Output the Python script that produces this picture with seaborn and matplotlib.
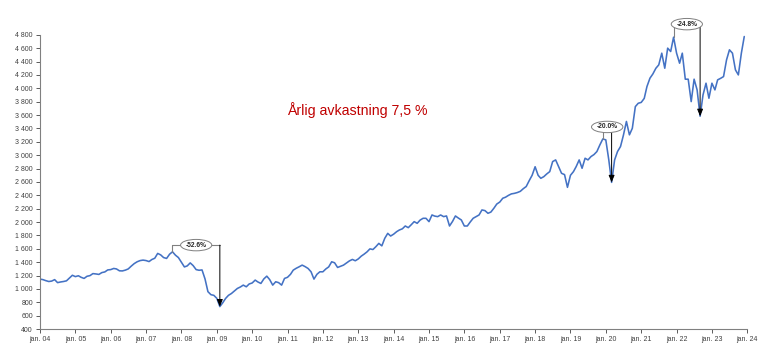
import numpy as np
import pandas as pd
import matplotlib
matplotlib.use("Agg")
import matplotlib.pyplot as plt
import matplotlib.dates as mdates
from matplotlib.ticker import FuncFormatter, MultipleLocator
import seaborn as sns

# Monthly index level, Jan 2004 - Dec 2023
start_month = "2004-01-01"
index_values = [
    # 2004
    1148, 1140, 1125, 1112, 1118, 1140, 1095, 1105, 1112, 1122, 1165, 1205,
    # 2005
    1185, 1198, 1175, 1158, 1190, 1200, 1230, 1225, 1218, 1245, 1255, 1285,
    # 2006
    1290, 1307, 1300, 1272, 1270, 1282, 1300, 1342, 1380, 1407, 1425, 1432,
    # 2007
    1425, 1410, 1440, 1460, 1532, 1510, 1470, 1457, 1520, 1556, 1505, 1470,
    # 2008
    1400, 1330, 1345, 1390, 1350, 1290, 1280, 1285, 1150, 960, 915, 905,
    # 2009
    860, 737, 790, 858, 905, 933, 970, 1008, 1030, 1058, 1033, 1075,
    # 2010
    1090, 1133, 1105, 1083, 1150, 1192, 1140, 1058, 1108, 1095, 1058, 1158,
    # 2011
    1175, 1220, 1282, 1310, 1332, 1357, 1335, 1307, 1257, 1148, 1220, 1257,
    # 2012
    1257, 1300, 1330, 1407, 1392, 1322, 1340, 1357, 1390, 1420, 1442, 1422,
    # 2013
    1450, 1492, 1520, 1555, 1600, 1590, 1632, 1682, 1645, 1757, 1832, 1792,
    # 2014
    1820, 1857, 1882, 1900, 1942, 1917, 1960, 2007, 1982, 2030, 2057, 2057,
    # 2015
    2007, 2107, 2090, 2082, 2107, 2082, 2092, 1942, 2010, 2092, 2060, 2032,
    # 2016
    1942, 1942, 2000, 2057, 2082, 2107, 2182, 2172, 2132, 2150, 2207, 2270,
    # 2017
    2300, 2357, 2372, 2400, 2422, 2430, 2442, 2460, 2500, 2532, 2620, 2700,
    # 2018
    2828, 2700, 2655, 2680, 2720, 2755, 2905, 2930, 2830, 2730, 2710, 2520,
    # 2019
    2700, 2755, 2830, 2930, 2805, 2955, 2930, 2980, 3010, 3055, 3155, 3243,
    # 2020
    3230, 2930, 2594, 2930, 3055, 3130, 3300, 3505, 3305, 3403, 3727, 3777,
    # 2021
    3790, 3850, 4027, 4152, 4215, 4300, 4351, 4526, 4301, 4601, 4551, 4765,
    # 2022
    4526, 4376, 4526, 4137, 4137, 3802, 4137, 3977, 3583, 3902, 4077, 3852,
    # 2023
    4077, 3977, 4127, 4150, 4176, 4426, 4576, 4526, 4276, 4201, 4526, 4775,
]

# Drawdowns: peak month, trough month, label
dd_peaks = ["2007-10-01", "2019-12-01", "2021-12-01"]
dd_troughs = ["2009-02-01", "2020-03-01", "2022-09-01"]
dd_labels = ["-52.6%", "-20.0%", "-24.8%"]
dd_label_levels = [1656, 3423, 4960]

headline = "Årlig avkastning 7,5 %"

dates = pd.date_range(start_month, periods=len(index_values), freq="MS")
df = pd.DataFrame({"date": dates, "value": index_values})

sns.set_theme(style="white")
plt.rcParams["font.family"] = ["Liberation Sans", "DejaVu Sans"]

fig = plt.figure(figsize=(7.68, 3.52), dpi=100)
ax = fig.add_axes([0.052, 0.065, 0.921, 0.836])

sns.lineplot(data=df, x="date", y="value", ax=ax, color="#4472C4", linewidth=1.15)

# drawdown brackets
for pk, tr, lab, lvl in zip(dd_peaks, dd_troughs, dd_labels, dd_label_levels):
    pk_d, tr_d = pd.Timestamp(pk), pd.Timestamp(tr)
    pk_v = df.loc[df["date"] == pk_d, "value"].iloc[0]
    tr_v = df.loc[df["date"] == tr_d, "value"].iloc[0]
    ax.plot([pk_d, pk_d], [pk_v, lvl], color="#808080", lw=0.8, clip_on=False, zorder=3)
    ax.plot([pk_d, tr_d], [lvl, lvl], color="#808080", lw=0.8, clip_on=False, zorder=3)
    ax.annotate("", xy=(tr_d, tr_v), xytext=(tr_d, lvl),
                arrowprops=dict(arrowstyle="-|>,head_length=0.6,head_width=0.25",
                                color="black", lw=0.7, shrinkA=0, shrinkB=0,
                                mutation_scale=7),
                annotation_clip=False, zorder=4)
    mid = pk_d + (tr_d - pk_d) / 2
    ax.text(mid, lvl, lab, ha="center", va="center", fontsize=4.8, fontweight="bold",
            color="#262626", zorder=5, clip_on=False,
            bbox=dict(boxstyle="ellipse,pad=0.08", facecolor="white", edgecolor="#7f7f7f", lw=0.7))

ax.text(0.448, 0.745, headline, transform=ax.transAxes, ha="center", va="center",
        fontsize=10.2, color="#C00000")

ax.set_ylim(400, 4800)
ax.set_xlim(pd.Timestamp("2004-01-01"), pd.Timestamp("2024-01-01"))
ax.yaxis.set_major_locator(MultipleLocator(200))
ax.yaxis.set_major_formatter(FuncFormatter(lambda v, p: f"{v:,.0f}".replace(",", " ")))
ax.xaxis.set_major_locator(mdates.YearLocator())
ax.xaxis.set_major_formatter(FuncFormatter(lambda v, p: "jan. " + mdates.num2date(v).strftime("%y")))

ax.set_xlabel("")
ax.set_ylabel("")
ax.tick_params(axis="both", labelsize=5, colors="#404040", length=3, width=0.6,
               direction="out", left=True, bottom=True, pad=2)
sns.despine(ax=ax)
for s in ["left", "bottom"]:
    ax.spines[s].set_color("#808080")
    ax.spines[s].set_linewidth(0.8)

plt.savefig("out.png", dpi=100)
plt.close(fig)
